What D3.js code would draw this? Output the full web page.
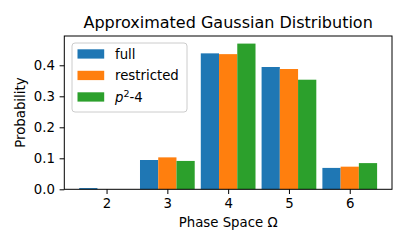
<!DOCTYPE html>
<html>
<head>
<script src="https://d3js.org/d3.v7.min.js"></script>
<style>
  body { margin: 0; background: #fff; }
  text { font-family: "DejaVu Sans", sans-serif; fill: #000; }
</style>
</head>
<body>
<script>
let phases = [2, 3, 4, 5, 6];
let seriesNames = ["full", "restricted", "p2-4"];
let full = [0.004, 0.0945, 0.4385, 0.3945, 0.0690];
let restricted = [0.0, 0.1030, 0.4360, 0.3880, 0.0730];
let p24 = [0.0, 0.0915, 0.4700, 0.3535, 0.0845];
let colors = ["#1f77b4", "#ff7f0e", "#2ca02c"];
let yTicks = [0.0, 0.1, 0.2, 0.3, 0.4];

let values = [full, restricted, p24];
let barW = 0.3;

let width = 407, height = 251;
let margin = {left: 64.3, right: 15, top: 36, bottom: 61.7};

let svg = d3.select("body").append("svg")
  .attr("width", width)
  .attr("height", height);

let x = d3.scaleLinear()
  .domain([1.305, 6.695])
  .range([margin.left, width - margin.right]);

let y = d3.scaleLinear()
  .domain([0, 0.4945])
  .range([height - margin.bottom, margin.top]);

// bars
values.forEach((vals, s) => {
  svg.append("g")
    .attr("fill", colors[s])
    .selectAll("rect")
    .data(vals)
    .join("rect")
      .attr("x", (d, i) => x(phases[i] + (s - 1) * barW - barW / 2))
      .attr("width", x(barW) - x(0))
      .attr("y", d => y(d))
      .attr("height", d => y(0) - y(d));
});

// axes
let xAxis = svg.append("g")
  .attr("transform", `translate(0,${y(0)})`)
  .call(d3.axisBottom(x).tickValues(phases).tickSize(4.7).tickPadding(4.7).tickFormat(d3.format("d")));
let yAxis = svg.append("g")
  .attr("transform", `translate(${x.range()[0]},0)`)
  .call(d3.axisLeft(y).tickValues(yTicks).tickSize(4.7).tickPadding(4.7).tickFormat(d3.format(".1f")));

[xAxis, yAxis].forEach(a => {
  a.select(".domain").remove();
  a.selectAll("text").style("font-size", "13.3px").style("font-family", "DejaVu Sans");
  a.selectAll("line").attr("stroke", "#000").attr("stroke-width", 1);
});

// frame
svg.append("rect")
  .attr("x", x.range()[0])
  .attr("y", y.range()[1])
  .attr("width", x.range()[1] - x.range()[0])
  .attr("height", y.range()[0] - y.range()[1])
  .attr("fill", "none")
  .attr("stroke", "#000")
  .attr("stroke-width", 1);

// title and labels
svg.append("text")
  .attr("x", (x.range()[0] + x.range()[1]) / 2)
  .attr("y", 28)
  .attr("text-anchor", "middle")
  .style("font-size", "16px")
  .text("Approximated Gaussian Distribution");

svg.append("text")
  .attr("x", (x.range()[0] + x.range()[1]) / 2)
  .attr("y", 227)
  .attr("text-anchor", "middle")
  .style("font-size", "13.3px")
  .text("Phase Space Ω");

svg.append("text")
  .attr("transform", `translate(25,${(y.range()[0] + y.range()[1]) / 2}) rotate(-90)`)
  .attr("text-anchor", "middle")
  .style("font-size", "13.3px")
  .text("Probability");

// legend
let legend = svg.append("g").attr("transform", "translate(72,43)");
legend.append("rect")
  .attr("width", 115)
  .attr("height", 69)
  .attr("rx", 3)
  .attr("fill", "#fff")
  .attr("fill-opacity", 0.8)
  .attr("stroke", "#ccc")
  .attr("stroke-width", 1);

seriesNames.forEach((name, i) => {
  let gy = 11 + i * 21.5;
  legend.append("rect")
    .attr("x", 5.5)
    .attr("y", gy - 4.7)
    .attr("width", 26.7)
    .attr("height", 9.3)
    .attr("fill", colors[i]);
  let t = legend.append("text")
    .attr("x", 43)
    .attr("y", gy + 4.7)
    .style("font-size", "13.3px");
  if (name === "p2-4") {
    t.append("tspan").style("font-style", "italic").text("p");
    t.append("tspan").attr("dy", -5).style("font-size", "9.5px").text("2");
    t.append("tspan").attr("dy", 5).text("-4");
  } else {
    t.text(name);
  }
});
</script>
</body>
</html>
